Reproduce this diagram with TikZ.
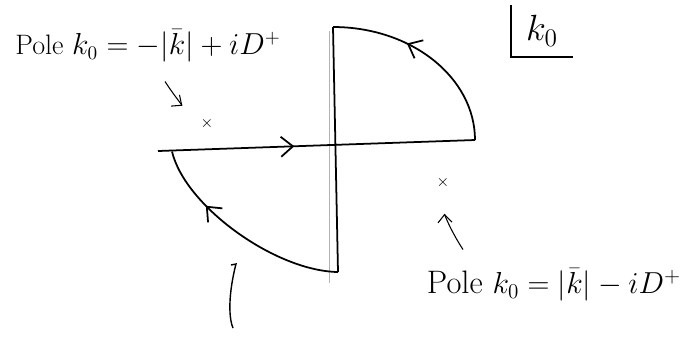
\documentclass[tikz,border=0pt]{standalone}
\usepackage{tikz}
\usetikzlibrary{arrows.meta, decorations.markings, positioning, calc}

\begin{document}
\begin{tikzpicture}[
    contour/.style={line width=1pt},
    midarrow/.style={postaction={decorate}, decoration={markings, mark=at position #1 with {\arrow{Straight Barb[length=2.4mm, width=4mm]}}}},
    pole/.style={inner sep=0pt, font=\small},
    poletext/.style={font=\fontsize{#1}{#1}\selectfont},
    pointer/.style={line width=0.6pt, -{Straight Barb[length=1.6mm, width=2.8mm]}}
]
% Frame
\useasboundingbox (-6.7,-3.82) rectangle (7.3,2.92);

% Imaginary axis (faint)
\draw[gray!60, line width=0.5pt] (-0.12,2.3) -- (-0.12,-2.74);

% Contour points
\coordinate (le) at (-3.54,-0.1);
\coordinate (re) at (2.8,0.12);
\coordinate (top) at (-0.04,2.38);
\coordinate (bot) at (0.06,-2.52);
\coordinate (lc) at (-3.26,-0.11);

% Contour
\draw[contour, midarrow=0.43] (le) -- (re);
\draw[contour, midarrow=0.62] (re) .. controls (2.8,1.36) and (1.54,2.38) .. (top);
\draw[contour] (top) -- (bot);
\draw[contour, midarrow=0.7] (bot) .. controls (-1.2,-2.5) and (-3.0,-1.2) .. (lc);

% Poles
\node[pole] (p1) at (-2.56,0.44) {$\times$};
\node[pole] (p2) at (2.16,-0.74) {$\times$};

% Labels
\node[poletext=16pt] (lbl1) at (-3.74,2.0) {Pole $k_0=-|\bar{k}|+iD^+$};
\node[poletext=18.5pt] (lbl2) at (4.38,-2.78) {Pole $k_0=|\bar{k}|-iD^+$};
\draw[pointer, shorten >=4.5mm] ([xshift=3.4mm,yshift=-2.6mm]lbl1.south) to[bend right=10] (p1);
\draw[pointer, shorten >=5mm] ([xshift=-18.2mm,yshift=2.6mm]lbl2.north) to[bend left=15] (p2);

% Stray stroke
\draw[line width=0.8pt] (-2.08,-2.38) -- (-1.98,-2.36) .. controls (-2.12,-2.9) and (-2.14,-3.4) .. (-2.04,-3.64);

% Plane label
\node[minimum width=1.24cm, minimum height=1.04cm, font=\huge] (plane) at (4.14,2.3) {$k_0$};
\draw[contour] (plane.north west) |- (plane.south east);
\end{tikzpicture}
\end{document}
